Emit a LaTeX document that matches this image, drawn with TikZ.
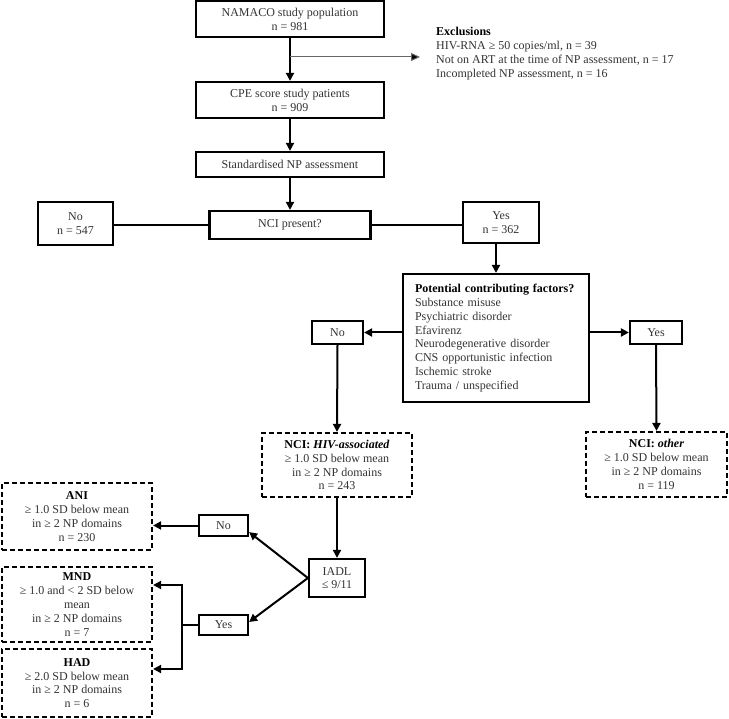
\documentclass[tikz,border=0pt]{standalone}
\usepackage{fontspec}
\setmainfont{Liberation Serif}
\usetikzlibrary{arrows.meta,calc}
\newcommand\myhd[1]{\textcolor{black}{\textbf{#1}}}
\begin{document}
\begin{tikzpicture}[x=1pt,y=-1pt,
  box/.style={draw=black, line width=2.2pt, align=center, inner sep=0pt,
    font=\fontsize{12}{13.8}\selectfont, text=black!80},
  dbox/.style={box, dash pattern=on 5pt off 3pt},
  conn/.style={line width=2pt, draw=black},
  arr/.style={conn, -{Triangle[length=8pt,width=8pt]}},
  thinarr/.style={line width=1pt, draw=black!60, -{Triangle[length=9pt,width=8pt,fill=black]}},
  plain/.style={align=left, inner sep=0pt, font=\fontsize{12}{13.8}\selectfont, text=black!80},
]
\useasboundingbox (0,0) rectangle (729,719);

\node[box, minimum width=188pt, minimum height=36pt] (pop) at (290,19) {NAMACO study population\\n = 981};
\node[box, minimum width=188pt, minimum height=36pt] (cpe) at (290,100) {CPE score study patients\\n = 909};
\node[box, minimum width=188pt, minimum height=25pt] (std) at (290,164.5) {Standardised NP assessment};
\node[box, minimum width=161pt, minimum height=28pt] (nci) at (290,225) {NCI present?};
\node[box, minimum width=75pt, minimum height=43pt] (no1) at (75.5,223.5) {No\\n = 547};
\node[box, minimum width=76pt, minimum height=41pt] (yes1) at (501,222.5) {Yes\\n = 362};

\node[box, minimum width=186pt, minimum height=128pt, text width=166pt, inner xsep=10pt, align=left] (pot) at (496,338)
  {\hspace*{2pt}\myhd{Potential contributing factors?}\\\hspace*{2pt}Substance misuse\\\hspace*{2pt}Psychiatric disorder\\\hspace*{2pt}Efavirenz\\\hspace*{2pt}Neurodegenerative disorder\\\hspace*{2pt}CNS opportunistic infection\\\hspace*{2pt}Ischemic stroke\\\hspace*{2pt}Trauma / unspecified};
\node[box, minimum width=51pt, minimum height=23pt] (no2) at (337.5,332.5) {No};
\node[box, minimum width=52pt, minimum height=23pt] (yes2) at (656,332.5) {Yes};

\node[dbox, minimum width=150pt, minimum height=64pt] (hiv) at (337,465)
  {\myhd{NCI: \textit{HIV-associated}}\\≥ 1.0 SD below mean\\in ≥ 2 NP domains\\n = 243};
\node[dbox, minimum width=141pt, minimum height=65pt] (oth) at (656.5,464.5)
  {\myhd{NCI: \textit{other}}\\≥ 1.0 SD below mean\\in ≥ 2 NP domains\\n = 119};

\node[box, minimum width=56pt, minimum height=38pt] (iadl) at (337,578) {IADL\\≤ 9/11};
\node[box, minimum width=49pt, minimum height=21pt] (no3) at (223.5,525.5) {No};
\node[box, minimum width=49pt, minimum height=20pt] (yes3) at (223.5,625) {Yes};

\node[dbox, minimum width=150pt, minimum height=67pt] (ani) at (77,516.5)
  {\myhd{ANI}\\≥ 1.0 SD below mean\\in ≥ 2 NP domains\\n = 230};
\node[dbox, minimum width=150pt, minimum height=75pt] (mnd) at (77,604.5)
  {\myhd{MND}\\≥ 1.0 and < 2 SD below\\mean\\in ≥ 2 NP domains\\n = 7};
\node[dbox, minimum width=150pt, minimum height=68pt] (had) at (77,683)
  {\myhd{HAD}\\≥ 2.0 SD below mean\\in ≥ 2 NP domains\\n = 6};

\node[plain, anchor=west] (exl) at (436,53.5)
  {\myhd{Exclusions}\\HIV-RNA ≥ 50 copies/ml, n = 39\\Not on ART at the time of NP assessment, n = 17\\Incompleted NP assessment, n = 16};

% connectors
\draw[arr] (pop.south) -- (cpe.north);
\coordinate (exs) at (pop.south |- 0,57);
\coordinate (exe) at (420,57);
\draw[thinarr] (exs) -- (exe);
\draw[arr] (cpe.south) -- (std.north);
\draw[arr] (std.south) -- (nci.north);
\draw[conn] (nci.west) -- (nci.west -| no1.east);
\draw[conn] (nci.east) -- (nci.east -| yes1.west);
\draw[arr] (pot.north |- yes1.south) -- (pot.north);
\draw[arr] (pot.west |- no2.east) -- (no2.east);
\draw[arr] (pot.east |- yes2.west) -- (yes2.west);
\draw[arr] (no2.south) -- (hiv.north);
\draw[arr] (yes2.south) -- (oth.north);
\draw[arr] (hiv.south) -- (iadl.north);
\draw[arr] (iadl.west) -- ([yshift=5pt]no3.south east);
\draw[arr] (iadl.west) -- ([yshift=3pt]yes3.east);
\draw[arr] (no3.west) -- (no3.west -| ani.east);
\coordinate (br) at (182,625);
\draw[conn] (yes3.west) -- (br);
\draw[arr] (br) |- ([yshift=19.5pt]mnd.east);
\draw[arr] (br) |- ([yshift=14pt]had.east);
\end{tikzpicture}
\end{document}
